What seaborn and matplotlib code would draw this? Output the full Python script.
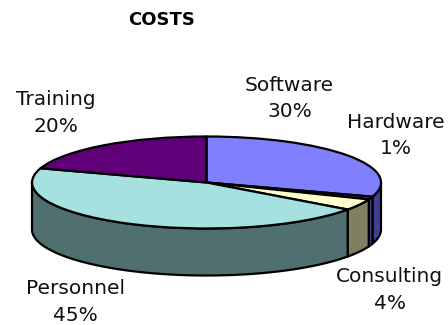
import numpy as np
import matplotlib
matplotlib.use("Agg")
import matplotlib.pyplot as plt
import seaborn as sns

sns.set_theme(style="white")
plt.rcParams["font.family"] = ["DejaVu Sans"]

categories = ["Software", "Hardware", "Consulting", "Personnel", "Training"]
shares = [30, 1, 4, 45, 20]
top_colors = ["#8080FF", "#404080", "#FFFFCC", "#A5E1E1", "#600078"]
side_colors = ["#404090", "#404080", "#808060", "#507070", "#300040"]
title = "COSTS"

W, H = 448, 325
CX, CY, RX, RY, DEPTH = 206.5, 182.5, 174.5, 46.0, 47.0
EDGE = "black"
LW = 1.6

fig = plt.figure(figsize=(W / 100, H / 100), dpi=100, facecolor="white")
ax = fig.add_axes([0, 0, 1, 1])

ax.pie(
    shares,
    colors=top_colors,
    startangle=90,
    counterclock=False,
    radius=1,
    wedgeprops=dict(edgecolor=EDGE, linewidth=LW, joinstyle="round", zorder=3),
)
ax.set_aspect("auto")
ax.set_xlim(-CX / RX, (W - CX) / RX)
ax.set_ylim((CY - H) / RY, CY / RY)
ax.axis("off")

# Side wall of the disc: only the front half of the rim is visible.
depth = DEPTH / RY
edges = np.concatenate([[0], np.cumsum(shares)]) * 3.6
for start, stop, color in zip(edges[:-1], edges[1:], side_colors):
    lo, hi = max(start, 90), min(stop, 270)
    if lo >= hi:
        continue
    theta = np.radians(np.linspace(lo, hi, 80))
    x = np.sin(theta)
    y = np.cos(theta)
    ax.fill(
        np.concatenate([x, x[::-1]]),
        np.concatenate([y, y[::-1] - depth]),
        facecolor=color,
        edgecolor=EDGE,
        linewidth=LW,
        joinstyle="round",
        zorder=1,
    )

label_xy = [(289.5, 98.5), (396, 135.5), (389.5, 290), (75, 302), (56, 113)]
for name, share, (px, py) in zip(categories, shares, label_xy):
    fig.text(
        px / W,
        1 - py / H,
        f"{name}\n{share}%",
        ha="center",
        va="center",
        fontsize=14.5,
        color="#111111",
        linespacing=1.5,
    )

fig.text(161.5 / W, 1 - 20 / H, title, ha="center", va="center",
         fontsize=13, fontweight="bold", color="black")

fig.savefig("out.png", dpi=100, facecolor="white")
